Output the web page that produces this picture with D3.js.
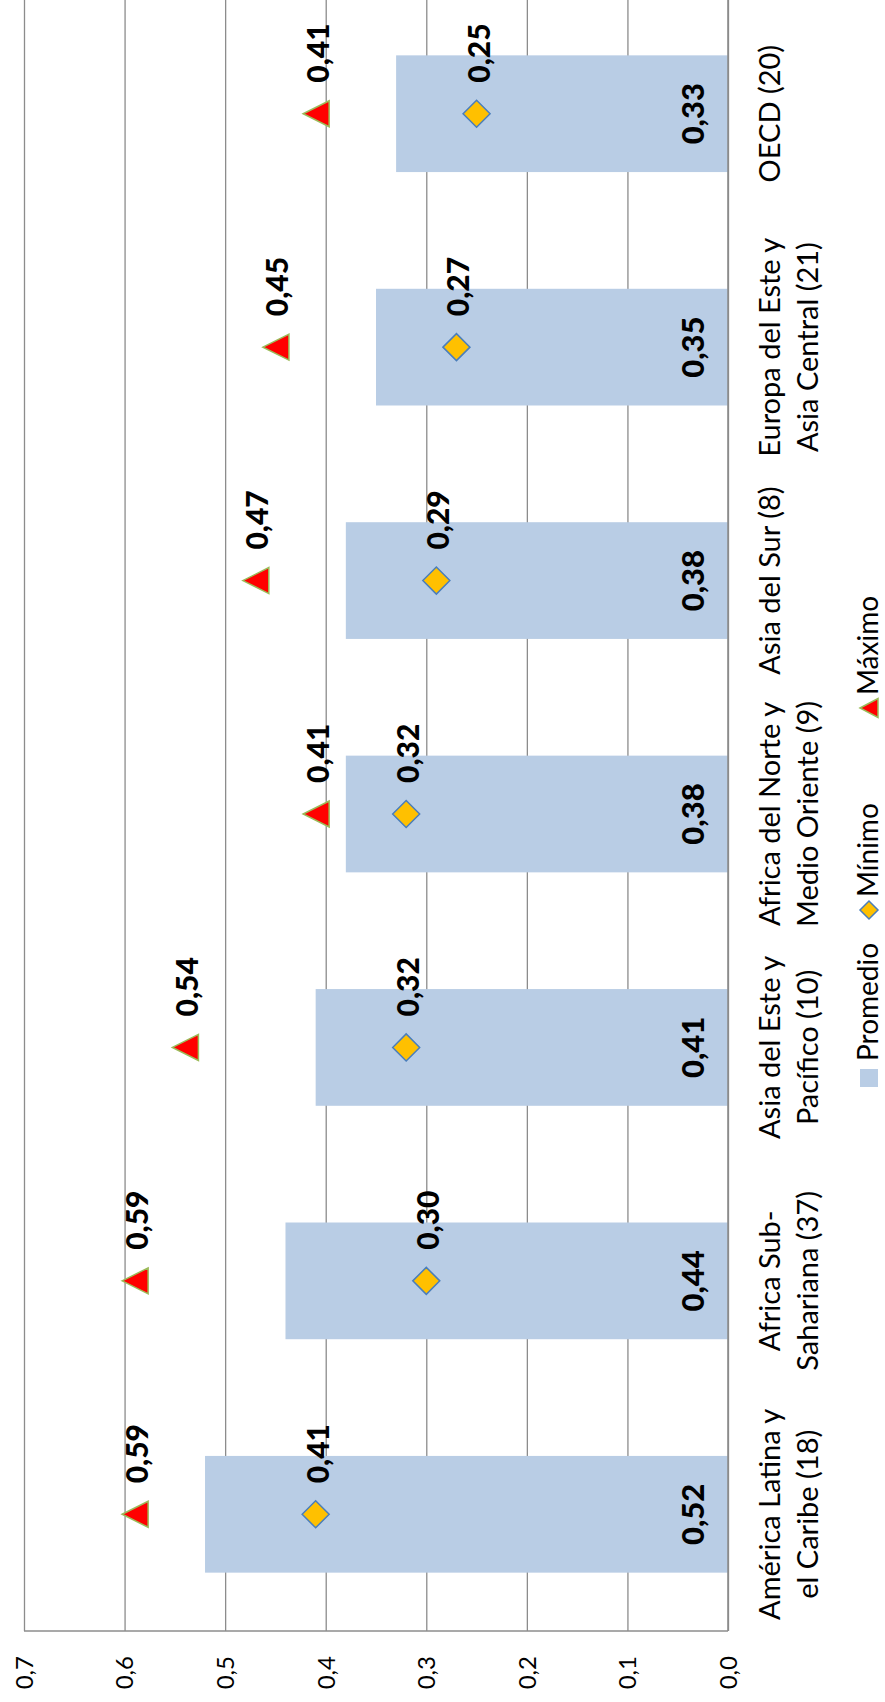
<!DOCTYPE html>
<html>
    <head>
        <meta charset="utf-8">
        <title>promedio minimo maximo</title>
        <style>
            body { margin: 0; background: white; }
            svg { display: block; }
            text { font-family: Lato, "Open Sans", sans-serif; fill: black; }
            .grid line { stroke: #8c8c8c; stroke-width: 1.3; }
            .frame { stroke: #8c8c8c; stroke-width: 1.6; fill: none; }
            .lbl { font-weight: 900; }
        </style>
        <script src="https://d3js.org/d3.v7.min.js"></script>
    </head>
    <body>
        <svg id='main' width="885" height="1702"></svg>
    <script>

        // data
        let categories = ['América Latina y el Caribe (18)', 'Africa Sub-Sahariana (37)',
            'Asia del Este y Pacífico (10)', 'Africa del Norte y Medio Oriente (9)',
            'Asia del Sur (8)', 'Europa del Este y Asia Central (21)', 'OECD (20)'];
        let labelLines = [['América Latina y', 'el Caribe (18)'], ['Africa Sub-', 'Sahariana (37)'],
            ['Asia del Este y', 'Pacífico (10)'], ['Africa del Norte y', 'Medio Oriente (9)'],
            ['Asia del Sur (8)'], ['Europa del Este y', 'Asia Central (21)'], ['OECD (20)']];
        let promedio = [0.52, 0.44, 0.41, 0.38, 0.38, 0.35, 0.33];
        let minimo = [0.41, 0.30, 0.32, 0.32, 0.29, 0.27, 0.25];
        let maximo = [0.59, 0.59, 0.54, 0.41, 0.47, 0.45, 0.41];
        let ticks = [0, 0.1, 0.2, 0.3, 0.4, 0.5, 0.6, 0.7];
        let legendNames = ['Promedio', 'Mínimo', 'Máximo'];

        let W = 1702, H = 885;   // chart drawn landscape, then turned
        let svg = d3.select('svg#main');
        let g = svg.append('g')
            .attr('transform', 'translate(0,' + W + ') rotate(-90)');

        let pLeft = 71, pRight = 1705, pTop = 24, pBottom = 728;

        let x = d3.scaleBand()
            .domain(categories)
            .range([pLeft, pRight])
            .paddingInner(0.5)
            .paddingOuter(0.25);
        let y = d3.scaleLinear()
            .domain([0, 0.7])
            .range([pBottom, pTop]);

        let comma = f => (v => f(v).replace('.', ','));
        let fmt1 = comma(d3.format('.1f'));
        let fmt2 = comma(d3.format('.2f'));

        // gridlines + value labels
        let yAxis = g.append('g')
            .attr('class', 'grid')
            .attr('transform', 'translate(' + pLeft + ',0)')
            .call(d3.axisLeft(y)
                .tickValues(ticks)
                .tickSize(-(pRight - pLeft))
                .tickPadding(25)
                .tickFormat(fmt1));
        yAxis.select('.domain').remove();
        yAxis.attr('font-family', null).attr('font-size', null);
        yAxis.selectAll('text')
            .style('font-size', '24px')
            .attr('dy', '0.35em');

        // bars
        let idx = d3.range(categories.length);
        g.append('g')
            .selectAll('rect')
            .data(idx)
            .join('rect')
                .attr('x', i => x(categories[i]))
                .attr('width', x.bandwidth())
                .attr('y', i => y(promedio[i]))
                .attr('height', i => y(0) - y(promedio[i]))
                .attr('fill', '#b9cde5');

        // axis lines
        g.append('line').attr('class', 'frame')
            .attr('x1', pLeft).attr('x2', pRight)
            .attr('y1', y(0)).attr('y2', y(0));
        g.append('line').attr('class', 'frame')
            .attr('x1', pLeft).attr('x2', pLeft)
            .attr('y1', y(0.7)).attr('y2', y(0));

        // bar labels (inside base)
        g.append('g')
            .selectAll('text')
            .data(idx)
            .join('text')
                .attr('class', 'lbl')
                .attr('x', i => x(categories[i]) + x.bandwidth() / 2)
                .attr('y', pBottom - 24)
                .attr('text-anchor', 'middle')
                .style('font-size', '31px')
                .text(i => fmt2(promedio[i]));

        let diamond = 'M0,-13.5L13.5,0L0,13.5L-13.5,0Z';
        let triangle = 'M0,-12.5L13,13.5L-13,13.5Z';
        let cx = i => x(categories[i]) + x.bandwidth() / 2;

        // markers
        let series = [
            { vals: minimo, path: diamond, fill: '#ffc000', stroke: '#4a7ebb' },
            { vals: maximo, path: triangle, fill: '#ff0000', stroke: '#9bbb59' }
        ];
        series.forEach(function(s) {
            let m = g.append('g');
            m.selectAll('path')
                .data(idx)
                .join('path')
                    .attr('d', s.path)
                    .attr('fill', s.fill)
                    .attr('stroke', s.stroke)
                    .attr('stroke-width', 1.5)
                    .attr('transform', i => 'translate(' + cx(i) + ',' + y(s.vals[i]) + ')');
            m.selectAll('text')
                .data(idx)
                .join('text')
                    .attr('class', 'lbl')
                    .attr('x', i => cx(i) + 31)
                    .attr('y', i => y(s.vals[i]) + 13)
                    .style('font-size', '30px')
                    .text(i => fmt2(s.vals[i]));
        });

        // category labels
        let cat = g.append('g')
            .selectAll('text')
            .data(idx)
            .join('text')
                .attr('text-anchor', 'middle')
                .style('font-size', '29px');
        cat.selectAll('tspan')
            .data(i => labelLines[i].map(t => ({ t: t, i: i })))
            .join('tspan')
                .attr('x', d => cx(d.i))
                .attr('y', (d, k) => 780 + k * 38)
                .text(d => d.t);

        // legend
        let legend = g.append('g').attr('class', 'legend');
        let legX = [624, 792, 994];
        legend.append('rect')
            .attr('x', legX[0] - 9).attr('y', 860)
            .attr('width', 18).attr('height', 18)
            .attr('fill', '#b9cde5');
        legend.append('path')
            .attr('d', 'M0,-9L9,0L0,9L-9,0Z')
            .attr('fill', '#ffc000').attr('stroke', '#4a7ebb').attr('stroke-width', 1.5)
            .attr('transform', 'translate(' + legX[1] + ',869)');
        legend.append('path')
            .attr('d', 'M0,-9L9.5,9L-9.5,9Z')
            .attr('fill', '#ff0000').attr('stroke', '#9bbb59').attr('stroke-width', 1.5)
            .attr('transform', 'translate(' + legX[2] + ',869)');
        legend.selectAll('text')
            .data(legendNames)
            .join('text')
                .attr('x', (d, k) => legX[k] + (k === 0 ? 17 : 13))
                .attr('y', 878)
                .style('font-size', '28px')
                .text(d => d);

    </script>
    </body>
</html>
